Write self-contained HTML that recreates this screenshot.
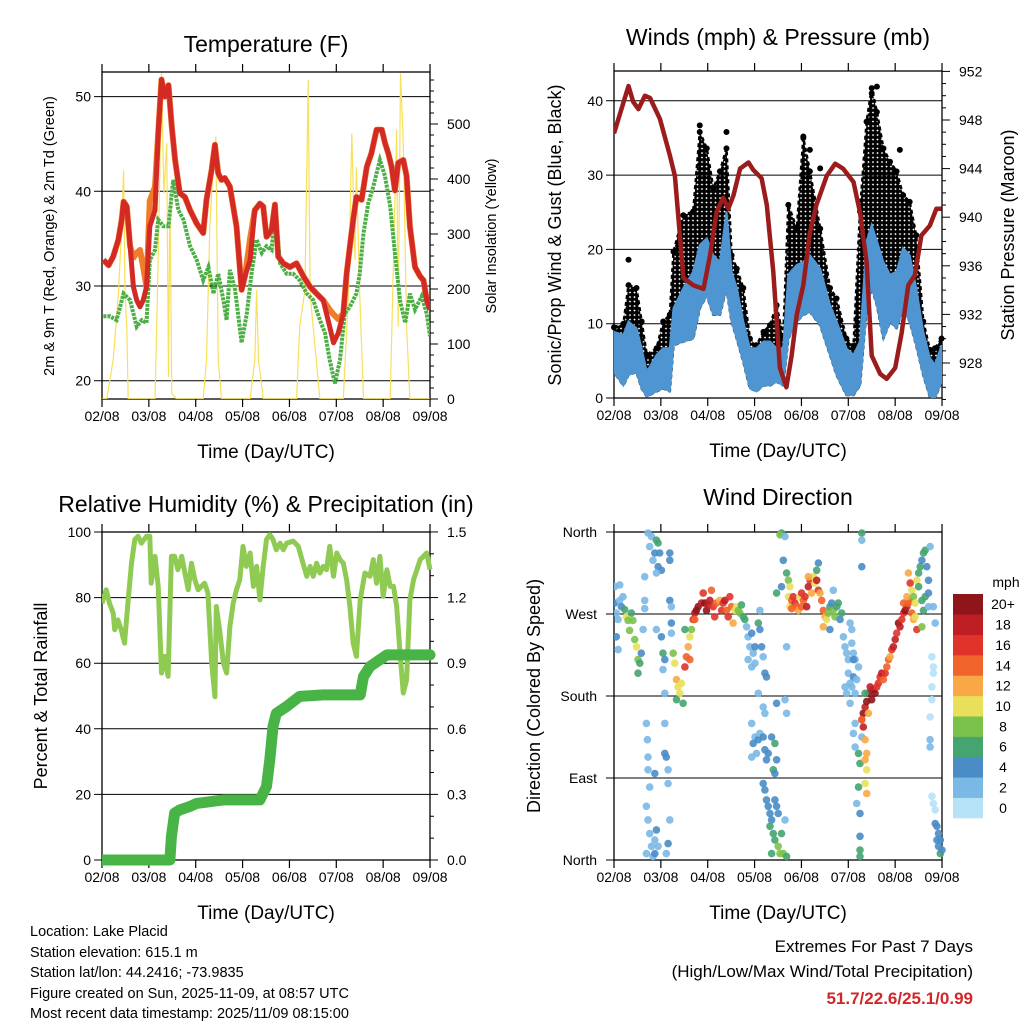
<!DOCTYPE html>
<html><head><meta charset="utf-8"><style>
body{margin:0;background:#fff;}
svg text{font-family:"Liberation Sans",sans-serif;}
</style></head><body>
<svg id="s" width="1024" height="1024" viewBox="0 0 1024 1024" xmlns="http://www.w3.org/2000/svg">
<defs><pattern id="dots" width="4.5" height="4.5" patternUnits="userSpaceOnUse"><circle cx="2.25" cy="2.25" r="2.4" fill="#000"/></pattern></defs>
</svg>
<script>
// ===== Temperature panel data =====
const tempT=[0.03,0.14,0.24,0.35,0.42,0.46,0.53,0.60,0.67,0.74,0.81,0.88,0.95,1.02,1.13,1.20,1.27,1.34,1.42,1.49,1.56,1.66,1.77,1.88,2.02,2.16,2.23,2.34,2.41,2.48,2.55,2.62,2.73,2.87,2.98,3.05,3.16,3.26,3.37,3.44,3.51,3.62,3.69,3.76,3.87,4.01,4.15,4.30,4.44,4.58,4.72,4.86,4.94,5.04,5.15,5.22,5.29,5.36,5.43,5.54,5.65,5.75,5.86,5.97,6.04,6.11,6.18,6.25,6.32,6.43,6.50,6.57,6.68,6.79,6.86,6.93,7.0];
const temp2m=[32.75,32.2,33.1,34.9,37.0,38.9,38.4,34.2,29.9,28.5,27.8,28.5,29.9,36.3,38.0,46.1,51.8,50.0,51.2,46.8,43.3,39.8,39.4,38.0,36.6,35.6,39.1,42.3,44.9,41.9,41.2,41.4,40.5,36.3,29.6,31.0,32.75,38.0,38.7,38.4,35.2,35.9,38.6,33.1,32.4,32.0,32.4,31.0,29.9,29.2,28.5,25.7,24.0,25.0,27.1,31.3,34.2,37.0,39.4,39.1,42.6,44.0,46.5,46.5,45.1,44.0,42.6,40.1,43.0,43.3,41.6,36.3,32.0,31.0,30.6,28.5,27.5];
const temp9m=[32.75,32.2,33.1,34.9,37.0,38.9,38.4,34.2,33.0,33.5,33.8,32.0,29.9,39.0,40.5,46.1,51.8,50.0,51.2,46.8,43.3,39.8,39.4,38.0,36.6,35.6,39.1,42.3,44.9,41.9,41.2,41.4,40.5,36.3,29.6,31.0,35.0,38.0,38.7,38.4,35.2,35.9,38.6,33.1,32.4,32.0,32.4,31.0,29.9,29.2,28.5,27.5,27.0,26.5,27.1,31.3,34.2,37.0,39.4,39.1,42.6,44.0,46.5,46.5,45.1,44.0,42.6,40.1,43.0,43.3,41.6,36.3,32.0,31.0,30.6,28.5,27.5];
const tdT=[0.03,0.17,0.31,0.46,0.60,0.74,0.85,0.95,1.02,1.13,1.20,1.31,1.42,1.52,1.63,1.74,1.88,2.02,2.16,2.27,2.38,2.48,2.59,2.66,2.73,2.84,2.98,3.09,3.19,3.30,3.41,3.51,3.62,3.69,3.80,3.94,4.08,4.22,4.37,4.51,4.65,4.76,4.86,4.97,5.08,5.18,5.29,5.43,5.50,5.58,5.68,5.79,5.93,6.04,6.15,6.25,6.36,6.47,6.57,6.68,6.82,6.93,7.0];
const dewpt=[26.8,26.8,26.4,29.2,28.5,25.7,26.4,26.1,32.75,33.8,37.0,36.3,36.3,41.2,38.0,37.0,34.2,32.75,30.6,32.0,29.2,31.3,28.5,26.4,31.7,29.6,24.0,27.1,31.3,34.9,33.5,34.2,33.8,38.0,32.4,31.3,31.3,30.6,29.2,28.5,26.4,25.0,22.2,19.7,22.2,27.1,27.8,29.2,31.3,35.6,38.7,40.5,43.3,41.6,38.4,33.5,28.5,26.1,29.2,27.5,28.9,27.1,24.7];
const solarT=[0,0.10,0.24,0.35,0.42,0.46,0.49,0.53,0.56,1.13,1.20,1.27,1.32,1.38,1.42,1.45,1.49,1.59,2.16,2.23,2.30,2.38,2.43,2.48,2.55,3.16,3.26,3.30,3.34,3.44,4.15,4.22,4.33,4.40,4.44,4.54,4.65,5.15,5.26,5.33,5.40,5.43,5.50,5.58,6.15,6.22,6.29,6.32,6.37,6.43,6.50,6.57,7.0];
const solar=[0,0,71,192,313,416,192,131,0,0,253,592,374,465,40,374,10,0,0,71,313,434,477,71,0,0,71,198,71,0,0,131,198,580,192,101,0,0,192,483,253,422,192,0,0,253,489,131,592,465,131,0,0];
const tempTicks=[20,30,40,50];
const solarTicks=[0,100,200,300,400,500];
const dayLabels=["02/08","03/08","04/08","05/08","06/08","07/08","08/08","09/08"];
// ===== Wind panel data =====
const windT=[0,0.20,0.31,0.48,0.59,0.70,0.91,1.05,1.19,1.27,1.48,1.69,1.83,1.98,2.12,2.26,2.40,2.51,2.62,2.76,2.90,3.04,3.19,3.33,3.47,3.61,3.72,3.90,4.04,4.18,4.40,4.61,4.75,4.96,5.11,5.25,5.39,5.50,5.61,5.75,5.89,6.03,6.17,6.31,6.45,6.60,6.74,6.85,6.99];
const windLo=[3.5,1.7,3.1,3.5,1.3,0.2,0.9,1.3,0.9,7.1,7.6,8.0,12.1,13.8,11.2,11.2,14.8,10.3,8.0,4.9,1.3,0.9,1.7,1.7,2.2,1.7,8.0,10.3,11.2,11.6,9.8,5.8,3.1,0.4,0.4,1.7,12.1,14.8,12.5,8.0,10.3,9.4,12.1,10.3,7.1,3.1,0.2,0,2.2];
const windHi=[8.9,8.5,10.3,9.4,6.7,3.5,5.8,6.7,6.7,12.1,14.8,17.0,20.6,21.5,19.2,18.3,25.1,17.0,14.8,10.3,6.7,6.7,7.6,7.6,6.7,6.7,16.6,17.9,18.3,19.2,17.4,12.5,10.3,6.7,5.8,7.6,21.1,23.3,21.1,18.3,16.6,17.0,20.2,19.2,14.8,8.9,5.4,4.5,7.1];
const gustHi=[9.5,10,15.2,14.8,10.3,5.8,6.7,10.3,11.2,19.7,24.6,25.1,35.8,33.6,28.2,30.5,33.6,19.2,17.4,14.8,8,7.1,8.9,9.8,12.5,8.0,26.0,22.8,35.0,30.5,22.8,14.8,13.4,8,7,25.1,37.2,41.7,38.5,33.6,31.8,30.5,27.3,26.4,21.9,10.3,6.5,6.7,8.0];
const gustOutT=[0.31,1.83,2.40,4.04,4.18,4.40,5.61,5.50,6.10];
const gustOut=[18.6,36.7,35.8,35.2,33.4,30.9,41.9,41.0,33.4];
const presT=[0,0.31,0.41,0.52,0.66,0.77,0.98,1.19,1.30,1.41,1.48,1.69,1.91,2.05,2.19,2.33,2.44,2.55,2.69,2.87,2.97,3.15,3.26,3.40,3.54,3.68,3.79,3.90,4.04,4.18,4.32,4.54,4.72,4.89,5.11,5.25,5.39,5.50,5.68,5.82,6.00,6.14,6.28,6.42,6.56,6.74,6.88,6.99];
const pres=[946.9,950.8,949.5,948.9,950.0,949.8,948.1,945.1,943.4,938.3,935.0,934.4,934.1,936.9,940.4,941.6,940.7,941.8,944.0,944.5,943.9,943.2,941.0,935.5,927.6,926.0,928.6,932.0,934.4,938.7,941.0,943.4,944.4,944.0,942.9,940.4,936.3,928.6,927.1,926.7,927.6,930.5,934.4,935.2,938.5,939.3,940.7,940.7];
const windTicks=[0,10,20,30,40];
const presTicks=[928,932,936,940,944,948,952];
// ===== RH / precip data =====
const rhT=[0,0.09,0.16,0.24,0.27,0.34,0.41,0.48,0.56,0.63,0.70,0.77,0.84,0.95,1.02,1.05,1.13,1.20,1.27,1.34,1.41,1.48,1.55,1.62,1.70,1.77,1.84,1.91,1.98,2.05,2.12,2.19,2.26,2.34,2.41,2.44,2.51,2.59,2.66,2.73,2.80,2.87,2.94,3.01,3.08,3.16,3.23,3.30,3.37,3.44,3.51,3.58,3.65,3.72,3.80,3.87,3.94,4.08,4.19,4.29,4.37,4.44,4.51,4.58,4.65,4.72,4.79,4.86,4.94,5.01,5.08,5.15,5.22,5.29,5.36,5.43,5.51,5.61,5.72,5.79,5.86,5.93,6.00,6.08,6.15,6.22,6.29,6.36,6.43,6.50,6.57,6.65,6.72,6.79,6.86,6.93,7.0];
const rh=[78.3,82.4,78.3,75.3,70.2,73.2,70.2,66.1,79.3,90.5,97.7,98.7,96.6,98.7,98.7,84.4,92.6,83.4,57.0,62.1,56.0,92.6,92.6,88.5,92.6,87.5,82.4,90.5,85.5,82.4,83.4,84.4,81.4,60.0,49.8,77.3,70.2,60.0,57.0,71.2,78.3,82.4,85.5,95.6,89.5,93.6,83.4,89.5,79.3,89.5,97.7,99.2,97.7,94.6,96.6,94.6,96.6,97.2,95.6,90.5,86.5,89.5,86.5,90.5,87.5,89.5,88.5,95.6,86.5,93.6,91.6,90.5,85.5,77.3,66.1,62.1,79.3,87.5,86.5,91.6,84.4,92.6,80.4,88.5,83.4,83.4,77.3,63.1,50.9,54.9,79.3,85.5,88.5,91.6,92.6,93.6,88.5];
const precT=[0,1.45,1.48,1.55,1.66,1.87,2.02,2.59,3.37,3.51,3.58,3.65,3.72,3.94,4.22,4.72,5.51,5.58,5.72,5.93,6.08,7.0];
const precip=[0,0,0.107,0.214,0.229,0.244,0.259,0.275,0.275,0.336,0.458,0.61,0.671,0.702,0.748,0.755,0.755,0.839,0.885,0.916,0.938,0.938];
const rhTicks=[0,20,40,60,80,100];
const precTicks=["0.0","0.3","0.6","0.9","1.2","1.5"];
// ===== Wind direction data (hours since start, degrees, mph) =====
const dirH=[0.3,1.2,2.1,2.9,3.8,4.6,5.5,6.3,7.2,8.0,8.9,9.7,10.6,11.5,12.3,13.2,14.0,14.9,2.1,12.3,0.3,2.9,1.2,
15.7,15.7,15.7,17.4,18.3,19.2,20,20.9,21.7,22.6,22.6,23.4,24.3,21.7,16.6,17.1,17.4,17.4,18.3,16.6,17.4,18.3,19.2,20,20.9,21.7,22.6,20.9,16.6,26,26.8,27.7,27.7,28.6,27.7,26.8,24.3,25.1,26,25.1,28.6,29.4,29.4,29.4,26,26,21.7,20.9,28.6,28.6,
30.3,31.1,32,32.8,33.7,34.5,32,35.4,36.3,37.1,38,38.8,39.7,36.3,38.8,40.5,41.4,42.2,43.1,44.8,45.7,46.5,47.4,48.2,49.1,49.9,50.8,51.6,52.5,54.2,55.1,55.9,56.8,57.6,58.5,59.3,60.2,61,61.9,62.8,63.6,64.5,65.3,66.2,67,41.4,
67.9,68.7,69.6,68.7,70.5,71.3,70.5,72.2,72.2,73.9,74.7,75.6,74.7,76.4,77.3,78.1,73.9,76.4,77.3,70.5,72.2,71.3,73,73.9,74.7,76.4,77.3,78.1,79,80.7,82.4,83.3,81.6,82.4,76.4,77.3,78.1,79,79.9,80.7,82.4,83.3,84.1,79.9,81.6,82.4,84.1,85,85.8,86.7,80.7,87.6,88.4,70.5,88.4,83.3,87.6,88.4,85.8,85,87.6,
83.3,85.8,86.7,88.4,89.3,90.1,89.3,90.1,91,91.8,92.7,93.5,94.4,95.2,96.1,97,97.8,98.7,99.5,100.4,101.2,102.1,102.9,103.8,104.7,105.5,106.4,107.2,108.1,108.9,109.8,110.6,111.5,112.3,113.2,114.1,114.9,115.8,116.6,107.2,110.6,112.3,104.7,103.8,99.5,96.1,91,
117.5,118.3,119.2,120,120.9,121.8,121.8,122.6,123.5,120,120.9,121.8,122.6,123.5,124.3,118.3,119.2,120.9,122.6,125.2,126.9,126.9,126.9,
126.9,127.7,128.6,127.7,129.4,130.3,131.2,132,132.9,133.7,134.6,135.4,136.3,137.1,138,138.9,139.7,140.6,141.4,142.3,143.1,144,144.8,145.7,146.5,147.4,148.3,149.1,150,150.8,151.7,152.5,153.4,154.2,155.1,148.3,150,150.8,151.7,152.5,153.4,154.2,155.1,156,156.8,157.7,158.5,159.4,160.2,161.1,156,157.7,158.5,159.4,161.1,157.7,161.9,161.1,
125.2,126,126.9,128.6,129.4,128.6,129.4,128.6,129.4,125.2,126,124.3,126,126,126,123.5,123.5,122.6,128.6,130.3,126.9,
162.8,163.6,163.6,162.8,162.8,161.9,161.9,161.9,162.8,163.6,164.5,164.5,165.4,166.2,165.4,166.2,167.1,168,167.1,164.5,163.6];
const dirDeg=[282,271,264,285,278,289,275,267,263,252,271,263,242,234,220,216,227,253,231,205,300,302,245,
311,285,276,359,344,355,329,337,351,348,322,337,318,315,150,132,113,99,80,59,44,29,15,4,22,33,15,7,7,117,113,99,84,44,18,7,245,227,220,209,285,278,260,249,183,150,253,95,337,329,
227,216,198,190,183,194,176,172,212,223,234,245,253,253,220,264,271,274,278,282,293,282,274,280,285,296,278,267,282,285,274,282,285,274,267,289,278,260,274,278,274,271,280,267,264,264,
256,245,234,220,249,227,212,216,234,260,253,234,274,223,205,201,183,168,161,150,135,128,117,132,139,135,121,110,117,135,128,110,99,95,84,77,66,59,51,44,66,59,51,37,29,22,15,7,29,7,7,44,4,113,234,172,176,161,359,357,355,
293,300,329,315,307,300,289,278,285,289,282,278,274,289,278,285,289,278,300,307,293,311,304,307,296,293,285,274,267,264,271,278,282,274,267,278,282,264,271,256,253,296,326,318,311,293,276,
245,234,227,220,260,253,238,227,220,205,194,190,201,183,198,190,183,172,220,212,359,351,322,
154,161,168,146,174,183,190,176,187,183,190,194,201,205,198,205,212,220,223,231,234,242,249,260,256,264,271,274,278,282,285,271,264,267,253,282,289,315,304,296,289,282,307,315,322,329,337,340,322,307,300,285,274,289,293,256,344,278,
117,106,135,132,117,110,99,84,73,80,51,62,26,11,4,150,124,139,183,161,154,
223,212,205,190,176,157,132,124,70,62,55,40,37,29,22,15,7,11,22,260,278];
const dirSpd=[4,2,2,2,4,2,6,10,8,8,6,8,8,10,8,6,4,2,2,6,2,2,4,
2,2,2,2,2,2,2,4,6,6,4,4,4,2,2,2,2,2,2,2,2,2,2,2,2,4,2,4,2,4,4,2,2,2,4,2,4,6,4,2,4,2,4,2,2,2,2,4,4,4,
8,10,12,10,10,10,6,6,16,14,12,10,8,6,14,16,18,20,20,18,16,20,20,18,18,14,16,16,14,12,16,16,18,14,16,16,14,12,10,10,8,8,6,6,6,14,
2,2,2,2,4,2,2,2,4,6,4,4,2,2,4,4,2,2,2,2,2,4,2,4,2,4,4,4,4,4,6,4,6,4,4,4,4,4,4,4,4,4,4,6,6,6,8,8,6,8,6,2,6,2,2,4,2,2,6,8,2,
6,4,4,6,8,10,10,10,14,16,16,14,12,10,14,14,16,18,18,16,12,10,10,18,16,12,14,14,12,10,8,6,4,8,8,6,6,4,6,12,4,2,4,6,12,16,14,
2,2,2,2,2,2,2,2,2,2,2,2,4,2,2,2,2,2,4,2,6,2,4,
16,20,18,18,20,20,18,20,18,20,16,16,16,18,14,16,14,14,12,16,18,18,16,20,18,16,16,20,18,14,14,14,12,10,16,14,12,12,16,10,8,10,10,6,6,4,6,6,4,4,6,6,6,6,4,8,2,2,
6,6,2,12,12,12,10,10,12,6,4,2,4,6,6,2,2,2,6,12,14,
0,0,0,0,0,0,2,2,0,0,0,4,4,4,4,4,6,4,4,2,2];
const dirTicks=["North","East","South","West","North"];
const cbLabels=["0","2","4","6","8","10","12","14","16","18","20+"];
const cbColors=["#b5e2f7","#7ab8e5","#4a8cc6","#46a470","#7bc24a","#e8e05a","#f8a844","#f0632a","#e0342b","#be1e24","#8e1519"];

const NS="http://www.w3.org/2000/svg";
const svg=document.getElementById('s');
function mk(tag,attrs,parent){const e=document.createElementNS(NS,tag);for(const k in attrs)e.setAttribute(k,attrs[k]);(parent||svg).appendChild(e);return e;}
function txt(x,y,s,size,anchor,parent,extra){const e=mk('text',Object.assign({x:x,y:y,'font-size':size,'text-anchor':anchor||'middle'},extra||{}),parent);e.textContent=s;return e;}
const DAY=46.86;
function xDay(x0){return t=>x0+t*DAY;}
function pts(xs,ys,fx,fy){return xs.map((t,i)=>fx(t).toFixed(1)+','+fy(ys[i]).toFixed(1)).join(' ');}

function frame(L,T,R,B,name){
  const g=mk('g',{});
  
  
  mk('rect',{x:L,y:T,width:R-L,height:B-T,fill:'none',stroke:'#000','stroke-width':1.3},g);
  for(let k=0;k<8;k++){const x=L+k*DAY;
    mk('line',{x1:x,y1:B,x2:x,y2:B+8,stroke:'#000','stroke-width':1.2},g);
    mk('line',{x1:x,y1:T,x2:x,y2:T-8,stroke:'#000','stroke-width':1.2},g);
    const lb=txt(x,B+22,dayLabels[k],14,'middle',g);
    
    
  }
  const xt=txt((L+R)/2,B+59,'Time (Day/UTC)',19,'middle',g);
  
  
  return g;
}
function hgrid(g,L,R,y,label,lx){mk('line',{x1:L-8,y1:y,x2:R,y2:y,stroke:'#000','stroke-width':1},g);
  const t=txt(lx,y+5,label,14,'end',g);
  
  }
function rtick(g,R,y,label,len){mk('line',{x1:R,y1:y,x2:R+len,y2:y,stroke:'#000','stroke-width':1},g);
  if(label!==null){const t=txt(R+17,y+5,label,14,'start',g);
  
  }}
function clip(id,L,T,R,B){const d=mk('defs',{});const c=mk('clipPath',{id:id},d);mk('rect',{x:L,y:T,width:R-L,height:B-T},c);}
function title(x,y,s,name){const t=txt(x,y,s,23,'middle');}
function vtitle(x,y,s,size,name){const t=txt(0,0,s,size,'middle',svg,{transform:'translate('+x+','+y+') rotate(-90)'});}

// ===== Panel 1 =====
(function(){
  const L=102,T=72,R=430,B=399;const fx=xDay(L);
  const fy=v=>380.7-(v-20)*9.47; const fs=v=>399-v*0.55;
  clip('c1',L,T,R,B);
  const g=frame(L,T,R,B,'temperature');
  tempTicks.forEach(v=>hgrid(g,L,R,fy(v),String(v),91));
  for(let v=0;v<=580;v+=20) rtick(g,R,fs(v),v%100===0?String(v):null,v%100===0?8:4);
  const sl=mk('polyline',{points:pts(solarT,solar,fx,fs),fill:'none',stroke:'#f7e05a','stroke-width':1.2,'clip-path':'url(#c1)'});
  
  
  const og=mk('polyline',{points:pts(tempT,temp9m,fx,fy),fill:'none',stroke:'#f07c2a','stroke-width':6,'stroke-linejoin':'round','clip-path':'url(#c1)'});
  
  
  const gr=mk('polyline',{points:pts(tdT,dewpt,fx,fy),fill:'none',stroke:'#4cae45','stroke-width':4,'stroke-dasharray':'3 1','clip-path':'url(#c1)'});
  
  
  const rd=mk('polyline',{points:pts(tempT,temp2m,fx,fy),fill:'none',stroke:'#d42a26','stroke-width':5,'stroke-linejoin':'round','clip-path':'url(#c1)'});
  
  
  title(266,52,'Temperature (F)','temperature-title');
  vtitle(54,236,'2m & 9m T (Red, Orange) & 2m Td (Green)',14.5,'temperature-y-title');
  vtitle(496,236,'Solar Insolation (Yellow)',14.5,'solar-y-title');
})();

// ===== Panel 2 =====
(function(){
  const L=614,T=71,R=942,B=398;const fx=xDay(L);
  const fy=v=>398-v*7.43; const fp=p=>363-(p-928)*12.15;
  clip('c2',L,T,R,B);
  const g=frame(L,T,R,B,'winds');
  windTicks.forEach(v=>hgrid(g,L,R,fy(v),String(v),603));
  for(let p=925;p<=952;p++) rtick(g,R,fp(p),(p%4===0)?String(p):null,(p%4===0)?8:4);
  const up=windT.map((t,i)=>fx(t).toFixed(1)+','+fy(gustHi[i]).toFixed(1));
  const dn=windT.map((t,i)=>fx(t).toFixed(1)+','+fy(windLo[i]).toFixed(1)).reverse();
  const gb=mk('polygon',{points:up.concat(dn).join(' '),fill:'url(#dots)',stroke:'#000','stroke-width':2.5,'stroke-dasharray':'4 3','stroke-linejoin':'round','clip-path':'url(#c2)'});
  
  
  windT.forEach((t,i)=>{const c=mk('circle',{cx:fx(t),cy:fy(gustHi[i]),r:3,fill:'#000'});
    
    });
  gustOutT.forEach((t,i)=>{const c=mk('circle',{cx:fx(t),cy:fy(gustOut[i]),r:3,fill:'#000'});
    
    });
  const up2=windT.map((t,i)=>fx(t).toFixed(1)+','+fy(windHi[i]).toFixed(1));
  const bb=mk('polygon',{points:up2.concat(dn).join(' '),fill:'#4e95d2',stroke:'#4e95d2','stroke-width':2,'clip-path':'url(#c2)'});
  
  
  const pl=mk('polyline',{points:pts(presT,pres,fx,fp),fill:'none',stroke:'#9b1c1c','stroke-width':4.5,'stroke-linejoin':'round','clip-path':'url(#c2)'});
  
  
  title(778,45,'Winds (mph) & Pressure (mb)','winds-title');
  vtitle(561,235,'Sonic/Prop Wind & Gust (Blue, Black)',18,'wind-y-title');
  vtitle(1014,235,'Station Pressure (Maroon)',18,'pressure-y-title');
})();

// ===== Panel 3 =====
(function(){
  const L=102,T=532,R=430,B=860;const fx=xDay(L);
  const fy=v=>860-v*3.28; const fi=v=>860-v*218.7;
  clip('c3',L,T-6,R+6,B+6);
  const g=frame(L,T,R,B,'humidity');
  rhTicks.forEach(v=>hgrid(g,L,R,fy(v),String(v),91));
  for(let k=0;k<=15;k++){const v=k*0.1;rtick(g,R,fi(v),(k%3===0)?precTicks[k/3]:null,(k%3===0)?8:4);}
  const rl=mk('polyline',{points:pts(rhT,rh,fx,fy),fill:'none',stroke:'#8fcb52','stroke-width':5,'stroke-linejoin':'round','clip-path':'url(#c3)'});
  
  
  const pl=mk('polyline',{points:pts(precT,precip,fx,fi),fill:'none',stroke:'#49b446','stroke-width':11,'stroke-linejoin':'round','stroke-linecap':'round','clip-path':'url(#c3)'});
  
  
  title(266,512,'Relative Humidity (%) & Precipitation (in)','humidity-title');
  vtitle(47,696,'Percent & Total Rainfall',18,'humidity-y-title');
})();

// ===== Panel 4 =====
(function(){
  const L=614,T=532,R=942,B=860;const fx=h=>L+h/24*DAY;
  const fy=d=>860-d*0.911;
  clip('c4',L,T-4,R+4,B+4);
  const g=frame(L,T,R,B,'wind-direction');
  dirTicks.forEach((s,k)=>hgrid(g,L,R,fy(k*90),s,597));
  function col(s){let i=Math.round(s/2);if(i>10)i=10;if(i<0)i=0;return cbColors[i];}
  dirH.forEach((h,i)=>{const c=mk('circle',{cx:fx(h).toFixed(1),cy:fy(dirDeg[i]).toFixed(1),r:3.8,fill:col(dirSpd[i]),'fill-opacity':0.9,'clip-path':'url(#c4)'});
    
    });
  title(778,505,'Wind Direction','wind-direction-title');
  vtitle(540,696,'Direction (Colored By Speed)',18,'direction-y-title');
  const cb=mk('g',{});
  
  
  const h=(818-594)/11;
  cbColors.forEach((c,i)=>{const y=818-(i+1)*h;mk('rect',{x:953,y:y,width:30,height:h+0.3,fill:c},cb);
    const t=txt(1003,y+h/2+5,cbLabels[i],14,'middle',cb);
    
    });
  const u=txt(1006,587,'mph',14,'middle',cb);
  
  
})();
</script>
<svg width="1024" height="1024" style="position:absolute;left:0;top:0">
<g font-family="Liberation Sans, sans-serif" font-size="14.5">
<text x="30" y="936" fill="#000">Location: Lake Placid</text>
<text x="30" y="957" fill="#000">Station elevation: 615.1 m</text>
<text x="30" y="977" fill="#000">Station lat/lon: 44.2416; -73.9835</text>
<text x="30" y="998" fill="#000">Figure created on Sun, 2025-11-09, at 08:57 UTC</text>
<text x="30" y="1018" fill="#000">Most recent data timestamp: 2025/11/09 08:15:00</text>
<text x="973" y="952" font-size="17" fill="#000" text-anchor="end">Extremes For Past 7 Days</text>
<text x="973" y="977" font-size="17" fill="#000" text-anchor="end">(High/Low/Max Wind/Total Precipitation)</text>
<text x="973" y="1004" font-size="17" font-weight="bold" style="fill:#d0282a" text-anchor="end">51.7/22.6/25.1/0.99</text>
</g></svg>
</body></html>
